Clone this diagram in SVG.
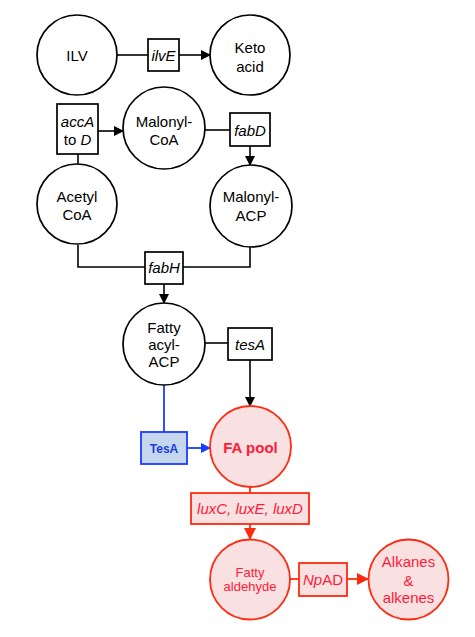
<svg xmlns="http://www.w3.org/2000/svg" width="475" height="637" viewBox="0 0 475 637">
<style>
.n{fill:#fff;stroke:#000;stroke-width:1.7}
.b{fill:#fff;stroke:#000;stroke-width:1.7}
.r{fill:#f9e1e1;stroke:#ff2a10;stroke-width:1.8}
.t{font-family:"Liberation Sans",Arial,sans-serif;font-size:15px;fill:#000;text-anchor:middle}
.i{font-style:italic}
.rt{fill:#ff1a38}
.c{fill:none;stroke:#000;stroke-width:1.6}
.cb{fill:none;stroke:#1a3cff;stroke-width:1.8}
.cr{fill:none;stroke:#ff2a10;stroke-width:1.8}
</style>
<defs>
<marker id="ak" markerWidth="10" markerHeight="10" refX="9" refY="5" orient="auto" markerUnits="userSpaceOnUse"><path d="M0,0 L10,5 L0,10 z" fill="#000"/></marker>
<marker id="ab" markerWidth="10" markerHeight="10" refX="9" refY="5" orient="auto" markerUnits="userSpaceOnUse"><path d="M0,0 L10,5 L0,10 z" fill="#1a3cff"/></marker>
<marker id="ar" markerWidth="12" markerHeight="12" refX="11" refY="6" orient="auto" markerUnits="userSpaceOnUse"><path d="M0,0 L12,6 L0,12 z" fill="#ff2a10"/></marker>
</defs>
<rect width="475" height="637" fill="#fff"/>
<g id="connectors">
<line class="c" x1="117" y1="55" x2="148" y2="55"/>
<line class="c" x1="179" y1="55" x2="210" y2="55" marker-end="url(#ak)"/>
<line class="c" x1="98" y1="131" x2="123" y2="131" marker-end="url(#ak)"/>
<line class="c" x1="78" y1="154" x2="78" y2="164"/>
<line class="c" x1="205" y1="130" x2="230" y2="130"/>
<line class="c" x1="250" y1="146" x2="250" y2="165" marker-end="url(#ak)"/>
<polyline class="c" points="78,245 78,267 145,267"/>
<polyline class="c" points="183,267 250,267 250,247"/>
<line class="c" x1="164" y1="284" x2="164" y2="303" marker-end="url(#ak)"/>
<line class="c" x1="205" y1="343" x2="228" y2="343"/>
<line class="c" x1="250" y1="360" x2="250" y2="406" marker-end="url(#ak)"/>
<line class="cb" x1="164" y1="385" x2="164" y2="432"/>
<line class="cb" x1="187" y1="448" x2="210" y2="448" marker-end="url(#ab)"/>
<line class="cr" x1="250" y1="487" x2="250" y2="493"/>
<line class="cr" x1="250" y1="524" x2="250" y2="539" marker-end="url(#ar)"/>
<line class="cr" x1="290" y1="579" x2="299" y2="579"/>
<line class="cr" x1="347" y1="579" x2="368" y2="579" marker-end="url(#ar)"/>
</g>
<g id="ILV"><circle class="n" cx="77" cy="55" r="40"/><text class="t" x="77" y="61">ILV</text></g>
<g id="ilvE"><rect class="b" x="148" y="39" width="31" height="32"/><text class="t i" x="163.5" y="61">ilvE</text></g>
<g id="keto"><circle class="n" cx="250" cy="55" r="40"/><text class="t" x="250" y="53">Keto</text><text class="t" x="250" y="72">acid</text></g>
<g id="accA"><rect class="b" x="57" y="104" width="41" height="50"/><text class="t" x="77.5" y="127"><tspan class="i">accA</tspan></text><text class="t" x="77.5" y="145">to <tspan class="i">D</tspan></text></g>
<g id="malonylCoA"><circle class="n" cx="164" cy="128" r="41"/><text class="t" x="164" y="127">Malonyl-</text><text class="t" x="164" y="145">CoA</text></g>
<g id="fabD"><rect class="b" x="230" y="113" width="40" height="33"/><text class="t i" x="250" y="136">fabD</text></g>
<g id="acetylCoA"><circle class="n" cx="77" cy="204" r="40"/><text class="t" x="77" y="202">Acetyl</text><text class="t" x="77" y="220">CoA</text></g>
<g id="malonylACP"><circle class="n" cx="251" cy="206" r="41"/><text class="t" x="251" y="202">Malonyl-</text><text class="t" x="251" y="221">ACP</text></g>
<g id="fabH"><rect class="b" x="145" y="252" width="38" height="32"/><text class="t i" x="164" y="273">fabH</text></g>
<g id="fattyAcylACP"><circle class="n" cx="164" cy="344" r="41"/><text class="t" x="164" y="333">Fatty</text><text class="t" x="164" y="350">acyl-</text><text class="t" x="164" y="367">ACP</text></g>
<g id="tesA"><rect class="b" x="228" y="328" width="44" height="32"/><text class="t i" x="250" y="350">tesA</text></g>
<g id="TesA"><rect x="141" y="432" width="46" height="32" fill="#c6d6ec" stroke="#1a3cff" stroke-width="1.8"/><text class="t" x="164" y="453" style="fill:#1a3cdd;font-weight:bold;font-size:12px">TesA</text></g>
<g id="FApool"><circle class="r" cx="250.5" cy="446.5" r="40.5"/><text class="t rt" x="250.5" y="453" style="font-weight:bold;font-size:15px">FA pool</text></g>
<g id="lux"><rect class="r" x="191" y="493" width="118" height="31"/><text class="t rt i" x="250" y="514">luxC, luxE, luxD</text></g>
<g id="fattyAldehyde"><circle class="r" cx="250" cy="579.5" r="40"/><text class="t rt" x="250" y="577" style="font-size:13px">Fatty</text><text class="t rt" x="250" y="591" style="font-size:13px">aldehyde</text></g>
<g id="NpAD"><rect class="r" x="299" y="563" width="48" height="33"/><text class="t rt" x="323" y="585"><tspan class="i">Np</tspan>AD</text></g>
<g id="alkanes"><circle class="r" cx="408.5" cy="579.5" r="40"/><text class="t rt" x="408.5" y="567">Alkanes</text><text class="t rt" x="408.5" y="586">&amp;</text><text class="t rt" x="408.5" y="603">alkenes</text></g>
</svg>
